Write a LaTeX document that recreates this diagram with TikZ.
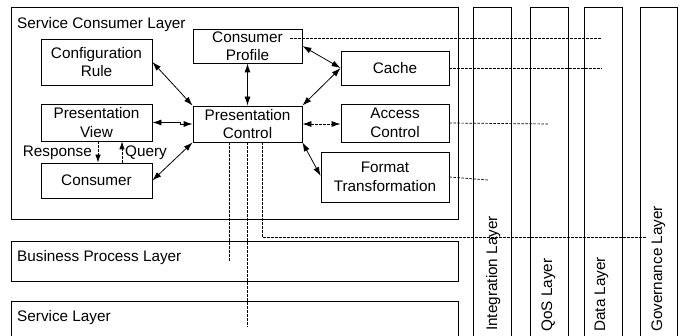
\documentclass[tikz,border=0pt]{standalone}
\usepackage{fontspec}
\setmainfont{Liberation Sans}
\usetikzlibrary{arrows.meta,calc}
\begin{document}
\begin{tikzpicture}[x=1pt,y=-1pt,
  box/.style={draw, line width=0.8pt, inner sep=0pt, align=center, font=\fontsize{15.3}{18.5}\selectfont},
  lay/.style={draw, line width=0.8pt},
  lbl/.style={inner sep=0pt, font=\fontsize{15.3}{18.5}\selectfont},
  biarrow/.style={line width=0.8pt, {Latex[length=9pt,width=6pt]}-{Latex[length=9pt,width=6pt]}},
  dbiarrow/.style={line width=0.8pt, dash pattern=on 2.5pt off 1.5pt, {Latex[length=9pt,width=6pt]}-{Latex[length=9pt,width=6pt]}},
  dline/.style={line width=0.7pt, dash pattern=on 2.5pt off 1.5pt},
  darrow/.style={line width=0.8pt, dash pattern=on 2.5pt off 1.5pt, -{Latex[length=8pt,width=5.5pt]}},
]
\useasboundingbox (0,0) rectangle (681,336);
\clip (0,0) rectangle (681,336);

% layers
\draw[lay] (11,7) rectangle (458,219);
\draw[lay] (11,241) rectangle (458,281);
\draw[lay] (11,301) rectangle (458,345);
\draw[lay] (473,7) rectangle (511,345);
\draw[lay] (530,7) rectangle (568,345);
\draw[lay] (584,7) rectangle (622,345);
\draw[lay] (640,7) rectangle (677,345);

\node[lbl, anchor=base west] (tscl) at (17,28.5) {Service Consumer Layer};
\node[lbl, anchor=base west] (tbpl) at (17,262) {Business Process Layer};
\node[lbl, anchor=base west] (tsl) at (17,322) {Service Layer};
\node[lbl, anchor=base west, rotate=90] (tint) at (497,331) {Integration Layer};
\node[lbl, anchor=base west, rotate=90] (tqos) at (552,332) {QoS Layer};
\node[lbl, anchor=base west, rotate=90] (tdata) at (605,332) {Data Layer};
\node[lbl, anchor=base west, rotate=90] (tgov) at (662,332) {Governance Layer};

% component boxes
\node[box, minimum width=111, minimum height=46] (CR) at (96.5,62) {Configuration\\Rule};
\node[box, minimum width=109, minimum height=34] (CP) at (247.5,46) {Consumer\\Profile};
\node[box, minimum width=111, minimum height=37] (PV) at (96.5,122.5) {Presentation\\View};
\node[box, minimum width=109, minimum height=36] (PC) at (247.5,124) {Presentation\\Control};
\node[box, minimum width=111, minimum height=35] (CO) at (96.5,180.5) {Consumer};
\node[box, minimum width=108, minimum height=34] (CA) at (395,68) {Cache};
\node[box, minimum width=108, minimum height=38] (AC) at (395,123) {Access\\Control};
\node[box, minimum width=128, minimum height=50] (FT) at (385,177) {Format\\Transformation};

% connectors
\draw[biarrow] (CR.east) -- (PC.north west);
\draw[biarrow] (CP.south) -- (PC.north);
\draw[biarrow] (CP.east) -- (CA.west);
\draw[biarrow] (CA.west) -- (PC.north east);
\draw[biarrow] (PV.east) -- ++(28,0) |- (PC.west);
\draw[dbiarrow] (PC.east) -- (PC.east -| AC.west);
\draw[biarrow] (PC.south east) -- ($(FT.west)+(0,-1)$);
\draw[biarrow] (CO.east) -- (PC.south west);

\draw[darrow] ([xshift=1.5pt]PV.south) -- ([xshift=1.5pt]CO.north);
\draw[darrow] ([xshift=25.5pt]CO.north) -- ([xshift=25.5pt]PV.south);
\node[lbl, anchor=base east] (resp) at (92,157) {Response};
\node[lbl, anchor=base west] (query) at (125,157) {Query};

% dashed links to vertical layers
\coordinate (e1) at (602,38);
\coordinate (e2) at (602,68);
\coordinate (e3) at (549,124);
\coordinate (e4) at (488,180);
\draw[dline] ($(CP.east |- e1)+(-12,0)$) -- (e1);
\draw[dline] (CA.east) -- (e2);
\draw[dline] (AC.east) -- (e3);
\draw[dline] (FT.east) -- (e4);

% dashed links down from Presentation Control
\coordinate (d1) at (229,262);
\coordinate (d2) at (247.5,327);
\coordinate (d3a) at (262,237);
\coordinate (d3) at (647,237);
\draw[dline] (PC.south -| d1) -- (d1);
\draw[dline] (PC.south) -- (d2);
\draw[dline] (PC.south -| d3a) -- (d3a) -- (d3);
\end{tikzpicture}
\end{document}
